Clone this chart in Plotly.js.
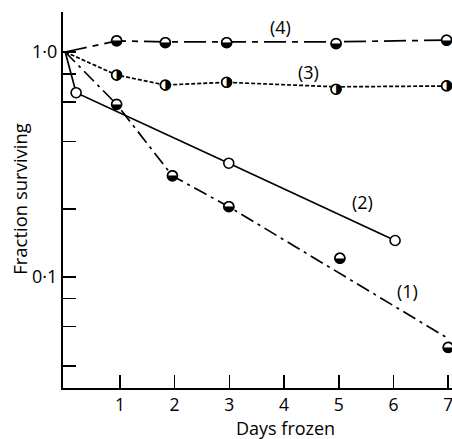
<!DOCTYPE html>
<html>
<head>
<meta charset="utf-8">
<script src="https://cdn.plot.ly/plotly-3.0.1.min.js"></script>
<style>html,body{margin:0;padding:0;background:#fff;}#chart{width:452px;height:439px;}</style>
</head>
<body>
<div id="chart"></div>
<script>
// Data (days frozen vs fraction surviving, log scale)
const s1Days = [0, 0.94, 1.96, 2.99, 5.02, 7.0];
const s1Frac = [1.0, 0.585, 0.281, 0.205, 0.121, 0.0485];
const s1LineDays = [0, 0.94, 1.96, 2.99, 6.95];
const s1LineFrac = [1.0, 0.585, 0.281, 0.205, 0.054];

const s2Days = [0.2, 2.99, 6.03];
const s2Frac = [0.659, 0.32, 0.145];
const s2LineDays = [0, 0.2, 2.99, 6.03];
const s2LineFrac = [1.0, 0.659, 0.32, 0.145];

const s3Days = [0.94, 1.83, 2.95, 4.95, 6.97];
const s3Frac = [0.79, 0.713, 0.733, 0.683, 0.706];
const s3LineDays = [0, 0.94, 1.83, 2.95, 4.95, 6.97];
const s3LineFrac = [1.0, 0.79, 0.713, 0.733, 0.7, 0.706];

const s4Days = [0.94, 1.83, 2.95, 4.95, 6.97];
const s4Frac = [1.12, 1.10, 1.10, 1.09, 1.13];
const s4LineDays = [0, 0.94, 1.83, 2.95, 4.95, 6.97];
const s4LineFrac = [1.0, 1.12, 1.11, 1.11, 1.11, 1.13];

const xTicks = [1, 2, 3, 4, 5, 6, 7];
const yTicks = [0.04, 0.06, 0.08, 0.1, 0.2, 0.4, 0.6, 0.8, 1.0];
const yTickText = ['', '', '', '0·1', '', '', '', '', '1·0'];

const seriesLabels = ['(1)', '(2)', '(3)', '(4)'];
const labelDays = [6.25, 5.44, 4.44, 3.93];
const labelFrac = [0.0863, 0.215, 0.815, 1.29];

const FONT = '"Open Sans", Lato, sans-serif';
const GLYPHFONT = 'DejaVu Sans';

function lineTrace(x, y, dash) {
  return {x: x, y: y, mode: 'lines', type: 'scatter', hoverinfo: 'skip',
    line: {color: '#000', width: 1.7, dash: dash}, showlegend: false};
}
function glyphTrace(x, y, glyph) {
  return {x: x, y: y, mode: 'markers+text', type: 'scatter', hoverinfo: 'skip',
    marker: {symbol: 'circle', size: 10, color: '#fff', line: {color: '#000', width: 1.6}},
    text: x.map(() => glyph), textposition: 'middle center',
    textfont: {family: GLYPHFONT, size: 14, color: '#000'}, showlegend: false, cliponaxis: false};
}
function openTrace(x, y) {
  return {x: x, y: y, mode: 'markers', type: 'scatter', hoverinfo: 'skip',
    marker: {symbol: 'circle', size: 10, color: '#fff', line: {color: '#000', width: 1.6}},
    showlegend: false, cliponaxis: false};
}

const data = [
  lineTrace(s1LineDays, s1LineFrac, '14px,5px,3px,5px'),
  lineTrace(s2LineDays, s2LineFrac, 'solid'),
  lineTrace(s3LineDays, s3LineFrac, '4px,2px'),
  lineTrace(s4LineDays, s4LineFrac, '22px,6px,6px,6px'),
  glyphTrace(s1Days.slice(1), s1Frac.slice(1), '◒'),
  openTrace(s2Days, s2Frac),
  glyphTrace(s3Days, s3Frac, '◑'),
  glyphTrace(s4Days, s4Frac, '◒')
];

const annotations = seriesLabels.map((t, i) => ({
  x: labelDays[i], y: Math.log10(labelFrac[i]), xref: 'x', yref: 'y', text: t,
  showarrow: false, font: {family: FONT, size: 18, color: '#000'}
}));
annotations.push({x: 0, y: 0.503, xref: 'paper', yref: 'paper', xshift: -43, xanchor: 'center', yanchor: 'middle',
  text: 'Fraction surviving', textangle: -90, showarrow: false, font: {family: FONT, size: 18.5, color: '#000'}});
annotations.push({x: 0.571, y: 0, xref: 'paper', yref: 'paper', yshift: -39.5, xanchor: 'center', yanchor: 'middle',
  text: 'Days frozen', showarrow: false, font: {family: FONT, size: 18, color: '#000'}});

const layout = {
  width: 452, height: 439,
  margin: {l: 63, r: 0, t: 12, b: 51, pad: 0},
  paper_bgcolor: '#fff', plot_bgcolor: '#fff',
  showlegend: false,
  font: {family: FONT, size: 17, color: '#000'},
  xaxis: {range: [-0.04, 7.07], tickvals: xTicks, ticktext: xTicks.map(String),
    ticks: 'inside', ticklen: 13, tickwidth: 1.6, tickcolor: '#000', ticklabeloverflow: 'allow',
    showline: true, linecolor: '#000', linewidth: 2, showgrid: false, zeroline: false,
    tickfont: {family: FONT, size: 17.5, color: '#000'}},
  yaxis: {type: 'log', range: [-1.495, 0.178], tickvals: yTicks, ticktext: yTickText,
    ticks: 'inside', ticklen: 13, tickwidth: 1.6, tickcolor: '#000',
    showline: true, linecolor: '#000', linewidth: 2, showgrid: false, zeroline: false,
    tickfont: {family: FONT, size: 18, color: '#000'}},
  annotations: annotations
};

Plotly.newPlot('chart', data, layout, {staticPlot: true, displayModeBar: false});
</script>
</body>
</html>
